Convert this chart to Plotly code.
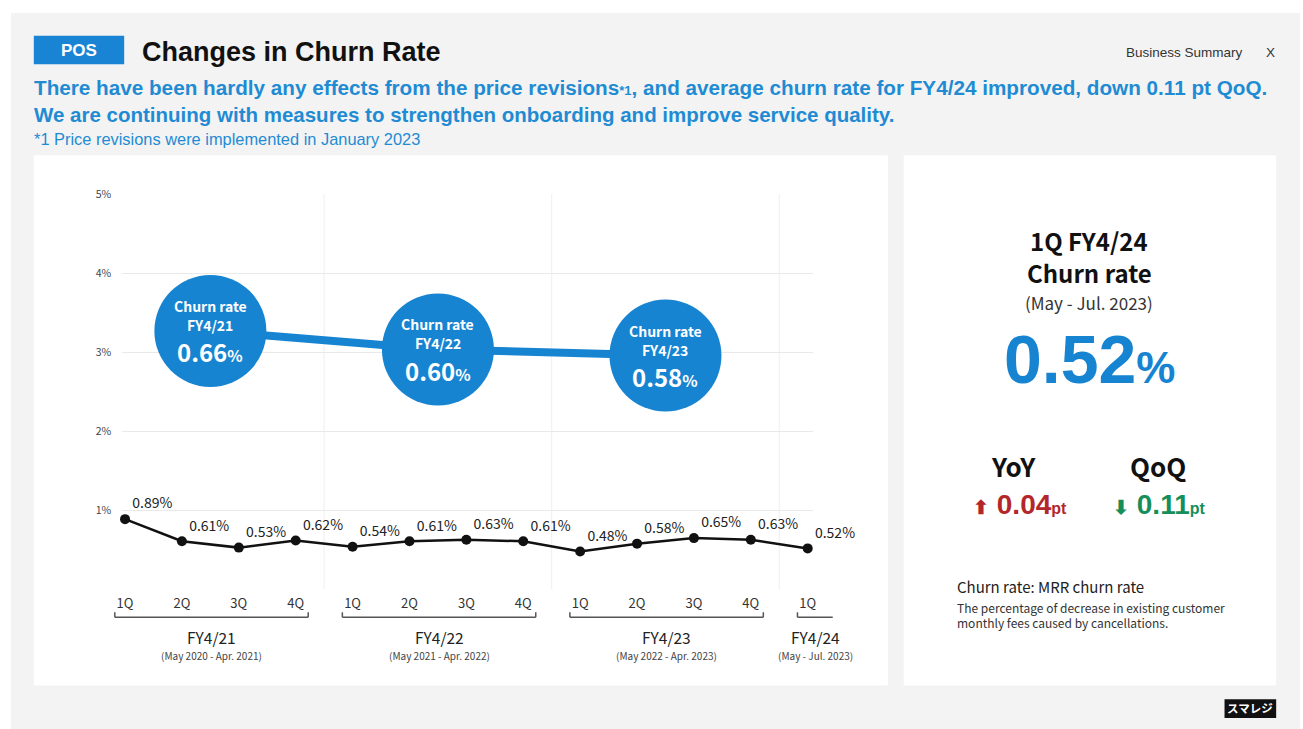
import plotly.graph_objects as go

# ---------------- data ----------------
quarters = ["1Q", "2Q", "3Q", "4Q", "1Q", "2Q", "3Q", "4Q", "1Q", "2Q", "3Q", "4Q", "1Q"]
churn_q = [0.89, 0.61, 0.53, 0.62, 0.54, 0.61, 0.63, 0.61, 0.48, 0.58, 0.65, 0.63, 0.52]
fy_names = ["FY4/21", "FY4/22", "FY4/23", "FY4/24"]
fy_periods = ["(May 2020 - Apr. 2021)", "(May 2021 - Apr. 2022)", "(May 2022 - Apr. 2023)", "(May - Jul. 2023)"]
fy_quarter_counts = [4, 4, 4, 1]
annual_names = ["FY4/21", "FY4/22", "FY4/23"]
annual_churn = [0.66, 0.60, 0.58]
y_ticks = [0, 1, 2, 3, 4, 5]
y_ticktext = ["", "1%", "2%", "3%", "4%", "5%"]

W, H = 1303, 729
BLUE = "#1784d2"
TXTBLUE = "#1f8bd3"
FONT = "Noto Sans CJK JP"
SANS = "Liberation Sans, Arial"


def px(x):
    return x / W


def py(y):
    return 1 - y / H


x_idx = list(range(len(quarters)))
X_RANGE = [-0.05, 12.1]
x_dom = [px(117), px(813)]
y_dom = [py(588), py(188)]


def xpaper(v):
    return x_dom[0] + (v - X_RANGE[0]) / (X_RANGE[1] - X_RANGE[0]) * (x_dom[1] - x_dom[0])


# fiscal-year groupings derived from counts
fy_start = []
s = 0
for c in fy_quarter_counts:
    fy_start.append(s)
    s += c
fy_end = [st + c - 1 for st, c in zip(fy_start, fy_quarter_counts)]
annual_x = [(fy_start[i] + fy_end[i]) / 2 for i in range(len(annual_churn))]

fig = go.Figure()

# quarterly line
fig.add_trace(go.Scatter(
    x=x_idx, y=churn_q, mode="lines+markers+text",
    line=dict(color="#111111", width=2.5),
    marker=dict(color="#111111", size=10),
    text=[f"{v:.2f}%" for v in churn_q],
    textposition="top right",
    textfont=dict(family=FONT, size=14, color="#222222"),
    cliponaxis=False, hoverinfo="skip", showlegend=False,
))

# annual bubbles (own hidden axis)
fig.add_trace(go.Scatter(
    x=annual_x, y=annual_churn, yaxis="y2", mode="lines+markers",
    line=dict(color=BLUE, width=8),
    marker=dict(color=BLUE, size=112, line=dict(width=0)),
    cliponaxis=False, hoverinfo="skip", showlegend=False,
))

fig.update_layout(
    width=W, height=H,
    margin=dict(l=0, r=0, t=0, b=0),
    paper_bgcolor="#ffffff", plot_bgcolor="rgba(0,0,0,0)",
    xaxis=dict(domain=x_dom, range=X_RANGE, tickvals=x_idx, ticktext=quarters,
               showgrid=False, zeroline=False, showline=False,
               ticks="outside", ticklen=2, tickcolor="rgba(0,0,0,0)",
               tickfont=dict(family=FONT, size=13, color="#333333")),
    yaxis=dict(domain=y_dom, range=[0, 5], tickvals=y_ticks, ticktext=y_ticktext,
               showgrid=True, gridcolor="#e9e9e9", gridwidth=1, zeroline=False,
               showline=False, ticks="", ticklabelstandoff=10,
               tickfont=dict(family=FONT, size=10.5, color="#444444")),
    yaxis2=dict(domain=y_dom, overlaying="y", range=[-0.18, 1.105], visible=False),
)

shapes = []
# slide background (thin white frame at top/left)
shapes.append(dict(type="rect", xref="paper", yref="paper", x0=px(5), x1=1, y0=0, y1=py(5),
                   fillcolor="#f3f3f3", line=dict(width=0), layer="below"))
# panels
shapes.append(dict(type="rect", xref="paper", yref="paper", x0=px(28), x1=px(888), y0=py(685), y1=py(149),
                   fillcolor="white", line=dict(width=0), layer="below"))
shapes.append(dict(type="rect", xref="paper", yref="paper", x0=px(904), x1=px(1279), y0=py(685), y1=py(149),
                   fillcolor="white", line=dict(width=0), layer="below"))
# POS box
shapes.append(dict(type="rect", xref="paper", yref="paper", x0=px(28), x1=px(119), y0=py(57), y1=py(28),
                   fillcolor="#1a84d4", line=dict(width=0)))
# logo box
shapes.append(dict(type="rect", xref="paper", yref="paper", x0=px(1227), x1=px(1279), y0=py(718), y1=py(699),
                   fillcolor="#111111", line=dict(width=0)))
# vertical separators between fiscal years
for st in fy_start[1:]:
    shapes.append(dict(type="line", xref="x", yref="y", x0=st - 0.5, x1=st - 0.5, y0=0, y1=5,
                       line=dict(color="#efefef", width=1), layer="below"))

# brackets
bracket_spans = []
for i, (st, en) in enumerate(zip(fy_start, fy_end)):
    x0 = xpaper(st - 0.18)
    x1 = xpaper(en + 0.22) if fy_quarter_counts[i] > 1 else xpaper(en + 0.44)
    bracket_spans.append((x0, x1))
    shapes.append(dict(type="line", xref="paper", yref="paper", x0=x0, x1=x1, y0=py(616), y1=py(616),
                       line=dict(color="#555555", width=1.5)))
    shapes.append(dict(type="line", xref="paper", yref="paper", x0=x0, x1=x0, y0=py(616), y1=py(611),
                       line=dict(color="#555555", width=1.5)))
    if fy_quarter_counts[i] > 1:
        shapes.append(dict(type="line", xref="paper", yref="paper", x0=x1, x1=x1, y0=py(616), y1=py(611),
                           line=dict(color="#555555", width=1.5)))
fig.update_layout(shapes=shapes)

ann = []


def T(x, y, text, size, color="#111111", family=FONT, xanchor="center", paper_x=False):
    ann.append(dict(x=x if paper_x else px(x), y=py(y), xref="paper", yref="paper",
                    text=text, showarrow=False, xanchor=xanchor, yanchor="middle",
                    font=dict(family=family, size=size, color=color)))


# bubble texts (anchored at the bubble data positions)
for xv, n, v in zip(annual_x, annual_names, annual_churn):
    for shift, txt, sz in [(25, "<b>Churn rate</b>", 14), (6, f"<b>{n}</b>", 14),
                           (-21, f"<b>{v:.2f}<span style='font-size:16px'>%</span></b>", 24)]:
        ann.append(dict(x=xv, y=v, xref="x", yref="y2", yshift=shift, text=txt, showarrow=False,
                        xanchor="center", yanchor="middle",
                        font=dict(family=FONT, size=sz, color="white")))

# fiscal year labels
for i, (x0, x1) in enumerate(bracket_spans):
    xc = (x0 + x1) / 2
    T(xc, 636, fy_names[i], 15.5, "#222222", paper_x=True)
    T(xc, 655, fy_periods[i], 10, "#444444", paper_x=True)

# header
T(73.5, 43, "<b>POS</b>", 17, "white", SANS)
T(135, 44, "<b>Changes in Churn Rate</b>", 27, "#111111", SANS, xanchor="left")
T(1187, 45, "Business Summary", 13.5, "#333333", SANS)
T(1273, 45, "X", 13.5, "#333333", SANS)
T(26, 80, "<b>There have been hardly any effects from the price revisions<span style='font-size:13px'>*1</span>, "
          "and average churn rate for FY4/24 improved, down 0.11 pt QoQ.</b>", 20.7, TXTBLUE, SANS, xanchor="left")
T(26, 108, "<b>We are continuing with measures to strengthen onboarding and improve service quality.</b>",
  20.5, TXTBLUE, SANS, xanchor="left")
T(26, 132, "*1 Price revisions were implemented in January 2023", 16.4, TXTBLUE, SANS, xanchor="left")

# right panel
T(1091, 235, "<b>1Q FY4/24</b>", 24)
T(1091, 267, "<b>Churn rate</b>", 24)
T(1091, 298, "(May - Jul. 2023)", 17, "#333333")
T(1091, 355, f"<b>{churn_q[-1]:.2f}<span style='font-size:44px'>%</span></b>", 68, BLUE, SANS)
T(1015, 463, "<b>YoY</b>", 26)
T(1160, 463, "<b>QoQ</b>", 26)
yoy = churn_q[-1] - churn_q[-5]
qoq = churn_q[-1] - churn_q[-2]
T(1021, 502, f"<b><span style='font-size:19px'>⬆</span> {abs(yoy):.2f}<span style='font-size:16px'>pt</span></b>",
  28, "#b3262a", SANS)
T(1162, 502, f"<b><span style='font-size:19px'>⬇</span> {abs(qoq):.2f}<span style='font-size:16px'>pt</span></b>",
  28, "#168e5a", SANS)
T(956, 585, "Churn rate: MRR churn rate", 15, "#222222", xanchor="left")
T(956, 606, "The percentage of decrease in existing customer", 12, "#333333", xanchor="left")
T(956, 621, "monthly fees caused by cancellations.", 12, "#333333", xanchor="left")

# logo
T(1253, 708, "<b>スマレジ</b>", 11.5, "white")

fig.update_layout(annotations=ann)
fig.write_html("out.html", config={"displayModeBar": False},
               post_script="document.body.style.margin='0';document.body.style.overflow='hidden';")
